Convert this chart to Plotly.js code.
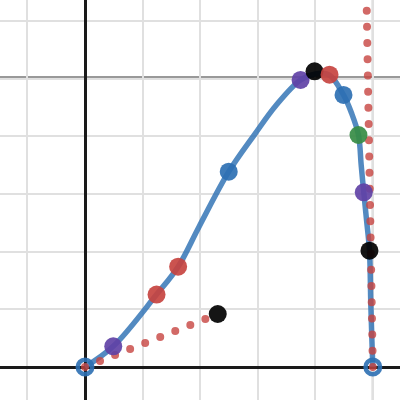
<!DOCTYPE html>
<html><head><meta charset="utf-8">
<script src="https://cdn.plot.ly/plotly-3.0.1.min.js"></script>
<style>html,body{margin:0;padding:0;background:#fff}#chart{width:400px;height:400px}</style>
</head><body><div id="chart"></div>
<script>
// curve
const curveX = [0, 0.491, 1.243, 1.618, 1.982, 2.497, 2.948, 3.324, 3.745, 4.023, 4.248, 4.491, 4.630, 4.751, 4.798, 4.843, 4.893, 4.942, 4.965, 4.985, 5];
const curveY = [0, 0.359, 1.256, 1.739, 2.433, 3.387, 4.035, 4.543, 4.977, 5.085, 5.063, 4.717, 4.404, 4.023, 3.503, 3.029, 2.532, 2.017, 1.100, 0.450, 0];
// endpoints (open rings)
const ringX = [0, 5];
const ringY = [0, 0];
// dotted segments
const dotAX = [0, 2.306];
const dotAY = [0, 0.919];
const dotBX = [5, 4.864];
const dotBY = [0, 8];
// points
const purpleX = [0.491, 3.745, 4.843];
const purpleY = [0.359, 4.977, 3.029];
const blackX = [3.988, 4.942, 2.306];
const blackY = [5.127, 2.017, 0.919];
const redX = [1.243, 1.618, 4.248];
const redY = [1.256, 1.739, 5.069];
const blueX = [2.497, 4.491];
const blueY = [3.387, 4.717];
const greenX = [4.751];
const greenY = [4.023];
// darker reference lines
const refX = 5;
const refY = 5.03;

const BLUE = '#2d70b3', RED = '#c74440', PURPLE = '#6042a6', GREEN = '#388c46', BLACK = '#000000';

const data = [
  {x: curveX, y: curveY, mode: 'lines', line: {color: BLUE, width: 5.5, shape: 'spline', smoothing: 1}, opacity: 0.82},
  {x: ringX, y: ringY, mode: 'markers', marker: {symbol: 'circle-open', size: 14.5, color: BLUE, line: {width: 4.5, color: BLUE}}, opacity: 0.9},
  {x: dotAX, y: dotAY, mode: 'lines', meta: 'dotted', line: {color: RED, width: 8, dash: '0px,16.2px'}, opacity: 0.8},
  {x: dotBX, y: dotBY, mode: 'lines', meta: 'dotted', line: {color: RED, width: 8, dash: '0px,16.2px'}, opacity: 0.8},
  {x: purpleX, y: purpleY, mode: 'markers', marker: {size: 18, color: PURPLE, line: {width: 0}}, opacity: 0.92},
  {x: blackX, y: blackY, mode: 'markers', marker: {size: 18, color: BLACK, line: {width: 0}}, opacity: 0.92},
  {x: redX, y: redY, mode: 'markers', marker: {size: 18, color: RED, line: {width: 0}}, opacity: 0.92},
  {x: blueX, y: blueY, mode: 'markers', marker: {size: 18, color: BLUE, line: {width: 0}}, opacity: 0.92},
  {x: greenX, y: greenY, mode: 'markers', marker: {size: 18, color: GREEN, line: {width: 0}}, opacity: 0.92}
];

const ax = {
  dtick: 1, tick0: 0, showticklabels: false, ticks: '',
  showgrid: true, gridcolor: '#e0e0e0', gridwidth: 2,
  zeroline: true, zerolinecolor: '#1a1a1a', zerolinewidth: 3,
  showline: false, fixedrange: true
};

const layout = {
  width: 400, height: 400,
  margin: {l: 0, r: 0, t: 0, b: 0, pad: 0},
  paper_bgcolor: '#ffffff', plot_bgcolor: '#ffffff',
  showlegend: false, hovermode: false,
  xaxis: Object.assign({}, ax, {range: [-1.4767, 5.4725]}),
  yaxis: Object.assign({}, ax, {range: [-0.5722, 6.3638]}),
  shapes: [
    {type: 'line', xref: 'x', yref: 'paper', x0: refX, x1: refX, y0: 0, y1: 1, line: {color: '#999999', width: 2}, layer: 'between'},
    {type: 'line', xref: 'paper', yref: 'y', x0: 0, x1: 1, y0: refY, y1: refY, line: {color: '#999999', width: 2}, layer: 'between'}
  ]
};

Plotly.newPlot('chart', data, layout, {displayModeBar: false, staticPlot: true}).then(function (gd) {
  const traces = gd.querySelectorAll('.scatterlayer .trace');
  data.forEach(function (t, i) {
    if (t.meta === 'dotted' && traces[i]) {
      traces[i].querySelectorAll('path.js-line').forEach(function (p) { p.style.strokeLinecap = 'round'; });
    }
  });
});
</script>
</body></html>
